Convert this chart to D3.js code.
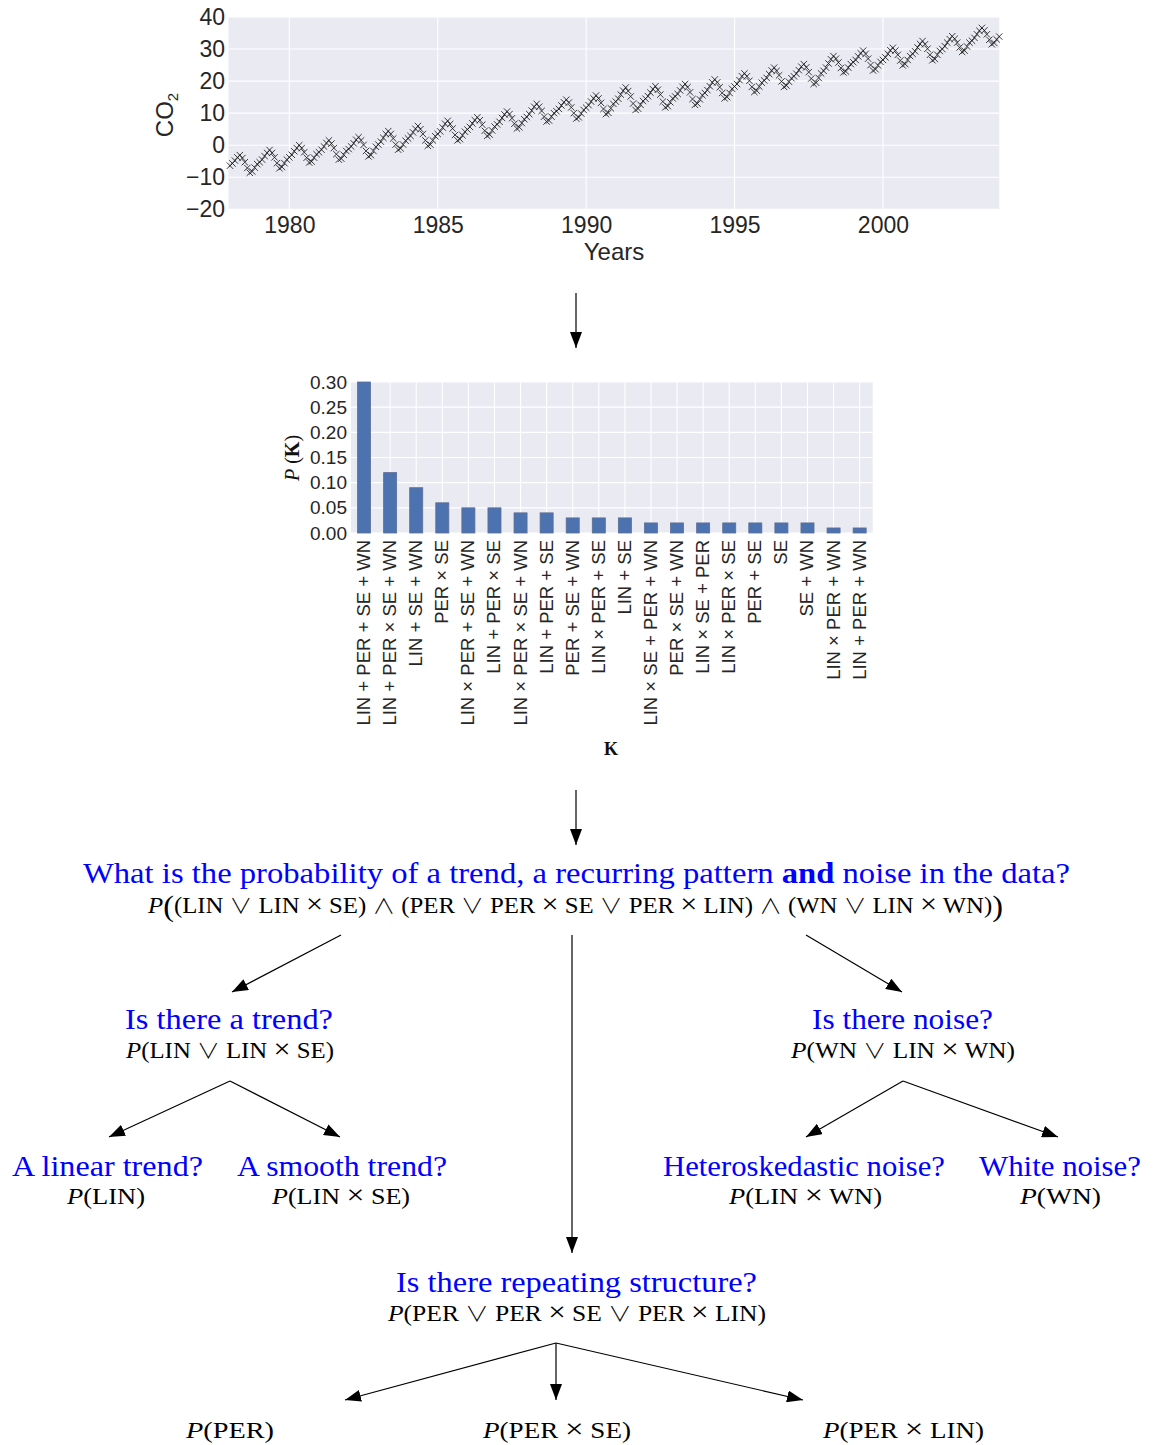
<!DOCTYPE html>
<html><head><meta charset="utf-8">
<script src="https://cdn.jsdelivr.net/npm/d3@7"></script>
<style>body{margin:0;background:#fff}</style>
</head><body>
<svg id="c" width="1153" height="1445"></svg>
<script>
// ---------- DATA ----------
const co2Start = 1978; // monthly values, January 1978 onward
const co2 = [
 -6.4,-5.7,-4.8,-3.8,-3.1,-4.0,-5.3,-7.1,-8.6,-8.2,-7.0,-5.9,  // 1978
 -5.3,-4.5,-3.4,-2.4,-1.5,-2.4,-3.8,-5.6,-7.2,-6.8,-5.6,-4.5,  // 1979
 -3.8,-3.0,-1.9,-0.9, 0.0,-0.9,-2.2,-3.9,-5.4,-5.1,-3.9,-2.8,  // 1980
 -2.2,-1.4,-0.4, 0.7, 1.5, 0.5,-0.9,-2.8,-4.5,-4.2,-3.0,-1.8,  // 1981
 -1.2,-0.4, 0.6, 1.7, 2.5, 1.5, 0.1,-1.8,-3.5,-3.1,-1.8,-0.5,  // 1982
  0.2, 1.1, 2.3, 3.5, 4.4, 3.5, 2.1, 0.2,-1.4,-1.0, 0.2, 1.4,  // 1983
  2.1, 2.9, 4.0, 5.1, 6.0, 5.0, 3.5, 1.5,-0.2, 0.2, 1.5, 2.8,  // 1984
  3.5, 4.3, 5.5, 6.7, 7.6, 6.6, 5.2, 3.2, 1.5, 1.9, 3.1, 4.2,  // 1985
  4.9, 5.7, 6.8, 7.8, 8.7, 7.8, 6.4, 4.5, 2.9, 3.3, 4.6, 5.8,  // 1986
  6.5, 7.3, 8.5, 9.6,10.5, 9.7, 8.4, 6.7, 5.2, 5.6, 6.9, 8.1,  // 1987
  8.8, 9.7,10.8,12.0,12.9,12.0,10.7, 8.9, 7.4, 7.7, 8.9,10.0,  // 1988
 10.6,11.3,12.4,13.4,14.2,13.3,11.8,10.0, 8.3, 8.7, 9.9,11.0,  // 1989
 11.7,12.5,13.6,14.6,15.5,14.6,13.2,11.3, 9.7,10.1,11.5,12.9,  // 1990
 13.6,14.5,15.8,17.0,18.0,16.9,15.2,13.0,11.0,11.4,12.6,13.8,  // 1991
 14.5,15.3,16.4,17.5,18.4,17.3,15.8,13.6,11.8,12.2,13.4,14.6,  // 1992
 15.2,16.0,17.1,18.2,19.1,18.1,16.5,14.4,12.6,13.0,14.3,15.6,  // 1993
 16.3,17.2,18.4,19.6,20.5,19.6,18.1,16.3,14.6,15.0,16.3,17.6,  // 1994
 18.3,19.1,20.3,21.5,22.4,21.5,20.1,18.2,16.6,17.0,18.3,19.5,  // 1995
 20.2,21.0,22.2,23.3,24.2,23.2,21.8,19.9,18.2,18.6,19.8,20.9,  // 1996
 21.5,22.3,23.4,24.5,25.3,24.3,22.8,20.8,19.1,19.5,21.0,22.4,  // 1997
 23.2,24.2,25.5,26.8,27.8,27.0,25.8,24.1,22.7,23.0,24.2,25.3,  // 1998
 25.9,26.6,27.7,28.7,29.5,28.5,27.0,25.0,23.3,23.7,24.9,26.0,  // 1999
 26.6,27.4,28.5,29.6,30.4,29.5,28.2,26.4,24.9,25.3,26.6,27.8,  // 2000
 28.5,29.3,30.5,31.6,32.5,31.5,30.1,28.2,26.5,26.9,28.2,29.4,  // 2001
 30.0,30.9,32.0,33.1,34.0,33.2,32.0,30.5,29.1,29.5,30.8,32.0,  // 2002
 32.6,33.5,34.6,35.7,36.6,35.8,34.6,32.9,31.5,31.9,33.0,33.9   // 2003
];
const co2XTicks = [1980, 1985, 1990, 1995, 2000];
const co2YTicks = [-20, -10, 0, 10, 20, 30, 40];

const kernels = [
 "LIN + PER + SE + WN", "LIN + PER × SE + WN", "LIN + SE + WN", "PER × SE",
 "LIN × PER + SE + WN", "LIN + PER × SE", "LIN × PER × SE + WN", "LIN + PER + SE",
 "PER + SE + WN", "LIN × PER + SE", "LIN + SE", "LIN × SE + PER + WN",
 "PER × SE + WN", "LIN × SE + PER", "LIN × PER × SE", "PER + SE",
 "SE", "SE + WN", "LIN × PER + WN", "LIN + PER + WN"
];
const kernelProbs = [0.30, 0.12, 0.09, 0.06, 0.05, 0.05, 0.04, 0.04, 0.03, 0.03,
                     0.03, 0.02, 0.02, 0.02, 0.02, 0.02, 0.02, 0.02, 0.01, 0.01];
const probTicks = [0, 0.05, 0.10, 0.15, 0.20, 0.25, 0.30];

const titleQuestion = ["What is the probability of a trend, a recurring pattern ", "and", " noise in the data?"];
const titleFormula = "(LIN ∨ LIN × SE) ∧ (PER ∨ PER × SE ∨ PER × LIN) ∧ (WN ∨ LIN × WN)";
const questions = ["Is there a trend?", "Is there noise?", "A linear trend?", "A smooth trend?",
                   "Heteroskedastic noise?", "White noise?", "Is there repeating structure?"];
const formulas = ["LIN ∨ LIN × SE", "WN ∨ LIN × WN", "LIN", "LIN × SE",
                  "LIN × WN", "WN", "PER ∨ PER × SE ∨ PER × LIN"];
const leafFormulas = ["PER", "PER × SE", "PER × LIN"];

// ---------- DRAW ----------
const svg = d3.select('#c');
const SANS = "'Liberation Sans', Arial, sans-serif";
const SERIF = "'Liberation Serif', 'Times New Roman', serif";
const TXT = '#262626';
const BG = '#EAEAF2';

// ===== Top chart =====
const x = d3.scaleLinear().domain([1977.95, 2003.92]).range([228.5, 999.3]);
const y = d3.scaleLinear().domain([-20, 40]).range([209.3, 17]);
const g1 = svg.append('g');
g1.append('rect').attr('x', x.range()[0]).attr('y', y.range()[1])
  .attr('width', x.range()[1] - x.range()[0]).attr('height', y.range()[0] - y.range()[1]).attr('fill', BG);
g1.selectAll(null).data(co2YTicks).join('line')
  .attr('x1', x.range()[0]).attr('x2', x.range()[1]).attr('y1', d => y(d)).attr('y2', d => y(d))
  .attr('stroke', '#fff').attr('stroke-width', 1.1);
g1.selectAll(null).data(co2XTicks).join('line')
  .attr('y1', y.range()[0]).attr('y2', y.range()[1]).attr('x1', d => x(d)).attr('x2', d => x(d))
  .attr('stroke', '#fff').attr('stroke-width', 1.1);
const xa = g1.append('g').attr('transform', `translate(0,${y.range()[0]})`)
  .call(d3.axisBottom(x).tickValues(co2XTicks).tickFormat(d3.format('d')).tickSize(0).tickPadding(7.5));
xa.select('.domain').remove();
xa.selectAll('text').attr('font-size', 23).attr('font-family', SANS).attr('fill', TXT);
const ya = g1.append('g').attr('transform', `translate(${x.range()[0]},0)`)
  .call(d3.axisLeft(y).tickValues(co2YTicks).tickSize(0).tickPadding(3.5));
ya.select('.domain').remove();
ya.selectAll('text').attr('font-size', 23).attr('font-family', SANS).attr('fill', TXT);
g1.append('text').attr('x', 614).attr('y', 260).attr('text-anchor', 'middle')
  .attr('font-size', 24).attr('font-family', SANS).attr('fill', TXT).text('Years');
const yl = g1.append('text').attr('transform', 'translate(173,115) rotate(-90)').attr('text-anchor', 'middle')
  .attr('font-size', 24).attr('font-family', SANS).attr('fill', TXT);
yl.append('tspan').text('CO');
yl.append('tspan').attr('font-size', 15).attr('dy', 5).text('2');
g1.selectAll(null).data(co2).join('path')
  .attr('d', 'M-3.2,-3.2L3.2,3.2M-3.2,3.2L3.2,-3.2')
  .attr('transform', (d, i) => `translate(${x(co2Start + i / 12)},${y(d)})`)
  .attr('stroke', '#1c1c1c').attr('stroke-width', 1).attr('fill', 'none').attr('opacity', 0.85);

// ===== Bar chart =====
const bx = d3.scaleLinear().domain([-0.5, kernels.length - 0.5]).range([351, 872.7]);
const by = d3.scaleLinear().domain([0, 0.30]).range([533, 382]);
const g2 = svg.append('g');
g2.append('rect').attr('x', bx.range()[0]).attr('y', by.range()[1])
  .attr('width', bx.range()[1] - bx.range()[0]).attr('height', by.range()[0] - by.range()[1]).attr('fill', BG);
g2.selectAll(null).data(probTicks).join('line')
  .attr('x1', bx.range()[0]).attr('x2', bx.range()[1]).attr('y1', d => by(d)).attr('y2', d => by(d))
  .attr('stroke', '#fff').attr('stroke-width', 1.1);
g2.selectAll(null).data(kernels).join('line')
  .attr('x1', (d, i) => bx(i)).attr('x2', (d, i) => bx(i)).attr('y1', by.range()[0]).attr('y2', by.range()[1])
  .attr('stroke', '#fff').attr('stroke-width', 1.1);
g2.selectAll(null).data(kernelProbs).join('rect')
  .attr('x', (d, i) => bx(i - 0.25)).attr('width', bx(0.5) - bx(0))
  .attr('y', d => by(d)).attr('height', d => by(0) - by(d))
  .attr('fill', '#4C72B0').attr('stroke', '#5d6f94').attr('stroke-width', 0.8);
const bya = g2.append('g').attr('transform', `translate(${bx.range()[0]},0)`)
  .call(d3.axisLeft(by).tickValues(probTicks).tickFormat(d3.format('.2f')).tickSize(0).tickPadding(4));
bya.select('.domain').remove();
bya.selectAll('text').attr('font-size', 19).attr('font-family', SANS).attr('fill', TXT);
g2.selectAll(null).data(kernels).join('text')
  .attr('transform', (d, i) => `translate(${bx(i) + 6},540) rotate(-90)`)
  .attr('text-anchor', 'end').attr('font-size', 18.5).attr('font-family', SANS).attr('fill', TXT)
  .text(d => d);
const pk = g2.append('text').attr('transform', 'translate(299,458) rotate(-90)').attr('text-anchor', 'middle')
  .attr('font-size', 20).attr('font-family', SERIF).attr('fill', '#111');
pk.append('tspan').attr('font-style', 'italic').text('P');
pk.append('tspan').text(' (');
pk.append('tspan').attr('font-weight', 'bold').text('K');
pk.append('tspan').text(')');
g2.append('text').attr('x', 611).attr('y', 755).attr('text-anchor', 'middle')
  .attr('font-size', 18).attr('font-weight', 'bold').attr('font-family', SERIF).attr('fill', '#111').text('K');

// ===== Tree =====
const BLUE = '#0000FF';
const defs = svg.append('defs');
defs.append('marker').attr('id', 'ah').attr('viewBox', '0 0 16 12').attr('refX', 16).attr('refY', 6)
  .attr('markerWidth', 16).attr('markerHeight', 12).attr('markerUnits', 'userSpaceOnUse').attr('orient', 'auto')
  .append('path').attr('d', 'M0,0L16,6L0,12Z').attr('fill', '#000');

const arrows = [
  [576, 293, 576, 348], [576, 790, 576, 845],
  [341, 935, 232, 992], [572, 935, 572, 1253], [806, 935, 902, 992],
  [230, 1081, 109, 1137], [230, 1081, 340, 1137],
  [903, 1081, 806, 1137], [903, 1081, 1058, 1137],
  [556, 1343, 345, 1400], [556, 1343, 556, 1400], [556, 1343, 803, 1400]
];
svg.selectAll(null).data(arrows).join('line')
  .attr('x1', d => d[0]).attr('y1', d => d[1]).attr('x2', d => d[2]).attr('y2', d => d[3])
  .attr('stroke', '#000').attr('stroke-width', 1.2).attr('marker-end', 'url(#ah)');

function question(str, cx, yb, len) {
  svg.append('text').attr('x', cx).attr('y', yb).attr('text-anchor', 'middle')
    .attr('font-size', 29).attr('font-family', SERIF).attr('fill', BLUE)
    .attr('textLength', len).attr('lengthAdjust', 'spacingAndGlyphs').text(str);
}
function appendMath(t, s, firstDy) {
  let first = true;
  s.split(/([∨∧×])/).forEach(part => {
    if (!part) return;
    let sp;
    if (part === '∨' || part === '∧') {
      sp = t.append('tspan').attr('font-family', "'Noto Sans CJK JP', 'DejaVu Sans', sans-serif")
        .attr('font-weight', 300).attr('font-size', 21).text(part);
    } else if (part === '×') {
      sp = t.append('tspan').attr('font-size', 28).text(part);
    } else {
      sp = t.append('tspan').text(part);
    }
    if (first && firstDy) sp.attr('dy', firstDy);
    first = false;
  });
}
function formula(inner, cx, yb, len, big) {
  const t = svg.append('text').attr('x', cx).attr('y', yb).attr('text-anchor', 'middle')
    .attr('font-size', 23).attr('font-family', SERIF).attr('fill', '#000')
    .attr('textLength', len).attr('lengthAdjust', 'spacingAndGlyphs');
  t.append('tspan').attr('font-style', 'italic').text('P');
  if (big) {
    t.append('tspan').attr('font-size', 30).attr('dy', 3).attr('font-weight', 300).text('(');
    appendMath(t, inner, -3);
    t.append('tspan').attr('font-size', 30).attr('dy', 3).attr('font-weight', 300).text(')');
  } else {
    t.append('tspan').text('(');
    appendMath(t, inner, 0);
    t.append('tspan').text(')');
  }
}

// title
const tt = svg.append('text').attr('x', 576.5).attr('y', 883).attr('text-anchor', 'middle')
  .attr('font-size', 29).attr('font-family', SERIF).attr('fill', BLUE)
  .attr('textLength', 987).attr('lengthAdjust', 'spacingAndGlyphs');
tt.append('tspan').text(titleQuestion[0]);
tt.append('tspan').attr('font-weight', 'bold').text(titleQuestion[1]);
tt.append('tspan').text(titleQuestion[2]);
formula(titleFormula, 575.5, 913, 855, true);

const qPos = [[229, 1029, 208], [902.5, 1029, 181], [107.5, 1176, 191], [342, 1176, 210],
              [804, 1176, 282], [1060, 1176, 162], [576.5, 1292, 361]];
const fPos = [[230, 1058, 208], [903, 1058, 224], [106, 1204, 78], [341, 1204, 138],
              [805.5, 1204, 153], [1060.5, 1204, 81], [577, 1321, 378]];
questions.forEach((q, i) => question(q, qPos[i][0], qPos[i][1], qPos[i][2]));
formulas.forEach((f, i) => formula(f, fPos[i][0], fPos[i][1], fPos[i][2], false));
const lPos = [[230, 1438, 88], [557, 1438, 148], [903.5, 1438, 161]];
leafFormulas.forEach((f, i) => formula(f, lPos[i][0], lPos[i][1], lPos[i][2], false));
</script>
</body></html>
